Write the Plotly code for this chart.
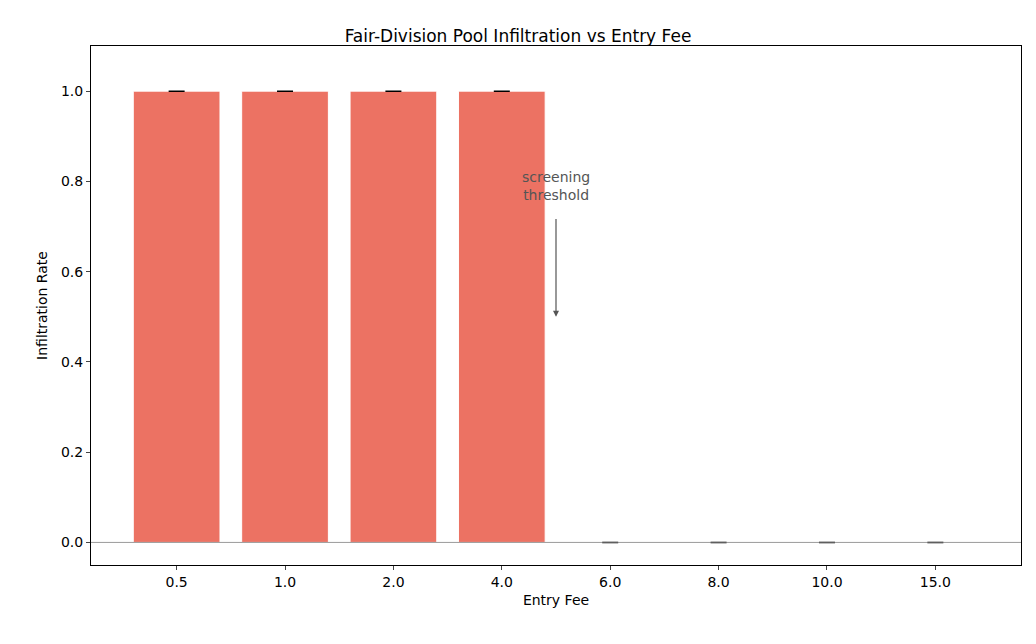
import plotly.graph_objects as go

fees = ["0.5", "1.0", "2.0", "4.0", "6.0", "8.0", "10.0", "15.0"]
rates = [1.0, 1.0, 1.0, 1.0, 0.0, 0.0, 0.0, 0.0]
errs = [0, 0, 0, 0, 0, 0, 0, 0]
xpos = list(range(len(fees)))

fig = go.Figure()
fig.add_trace(go.Bar(
    x=xpos, y=rates, width=0.8,
    marker=dict(color="#EC7263", line=dict(color="white", width=1)),
    error_y=dict(type="data", array=errs, visible=True, color="black", thickness=1.5, width=8),
))
fig.add_shape(type="line", xref="paper", x0=0, x1=1, y0=0, y1=0, line=dict(color="gray", width=0.8))
fig.add_annotation(x=3.5, y=0.5, ax=3.5, ay=0.72, xref="x", yref="y", axref="x", ayref="y",
                   showarrow=True, arrowhead=2, arrowsize=1, arrowwidth=1.2, arrowcolor="#555555", text="")
fig.add_annotation(x=3.5, y=0.79, xref="x", yref="y", text="screening<br>threshold", showarrow=False,
                   font=dict(size=14, color="#555555"))
fig.update_layout(
    width=1020, height=628, template="none", showlegend=False,
    font=dict(family="DejaVu Sans", size=14, color="black"),
    title=dict(text="Fair-Division Pool Infiltration vs Entry Fee", x=0.5, xanchor="center",
               y=0.965, font=dict(size=17)),
    margin=dict(l=83, r=7, t=38, b=71),
    plot_bgcolor="white", paper_bgcolor="white",
    xaxis=dict(range=[-0.79, 7.79], tickvals=xpos, ticktext=fees, showgrid=False, zeroline=False,
               showline=True, mirror=True, linecolor="black", ticks="outside", ticklen=4,
               tickfont=dict(size=14), title=dict(text="Entry Fee", standoff=6, font=dict(size=14))),
    yaxis=dict(range=[-0.05, 1.1], tickvals=[0, 0.2, 0.4, 0.6, 0.8, 1.0], tickformat=".1f",
               showgrid=False, zeroline=False, showline=True, mirror=True, linecolor="black",
               ticks="outside", ticklen=4, tickfont=dict(size=14),
               title=dict(text="Infiltration Rate", standoff=10, font=dict(size=14))),
)
fig.write_html("out.html")
